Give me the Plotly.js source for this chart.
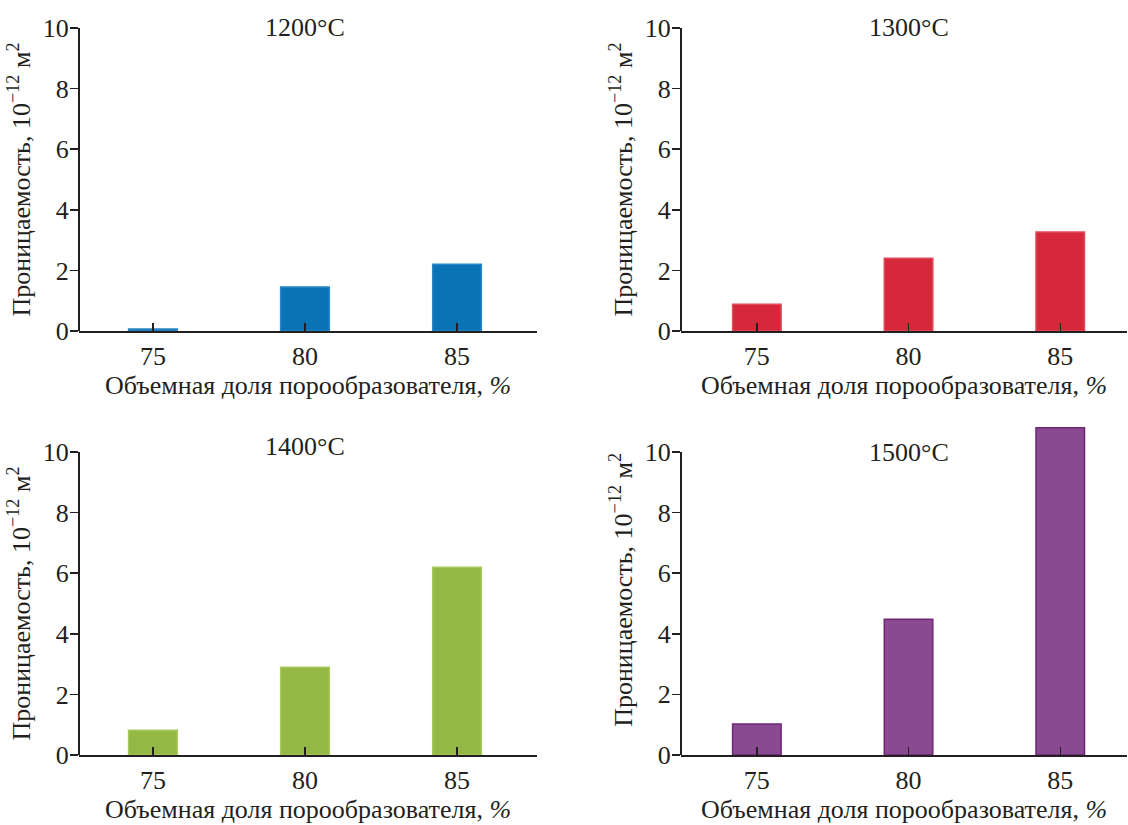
<!DOCTYPE html>
<html>
<head>
<meta charset="utf-8">
<script src="https://cdn.plot.ly/plotly-3.0.1.min.js"></script>
<style>
html,body{margin:0;padding:0;background:#fff;}
#chart{width:1128px;height:825px;}
</style>
</head>
<body>
<div id="chart"></div>
<script>
// ---- data ----
const fractions = [75, 80, 85];
const temps = ["1200°C", "1300°C", "1400°C", "1500°C"];
const perm1200 = [0.07, 1.45, 2.2];
const perm1300 = [0.88, 2.4, 3.27];
const perm1400 = [0.82, 2.9, 6.2];
const perm1500 = [1.02, 4.48, 10.8];
const yTicks = [0, 2, 4, 6, 8, 10];
const xTitle = "Объемная доля порообразователя, <i>%</i>";
const yTitle = "Проницаемость, 10<sup>−12</sup> м<sup>2</sup>";

// ---- styles ----
const fills = ["#0a73b6", "#d5293b", "#94b843", "#8a4a90"];
const lines = ["#2a86c4", "#e04a5a", "#a6c85c", "#6f277b"];
const series = [perm1200, perm1300, perm1400, perm1500];
const font = "Liberation Serif";
const fs = 26;
const ink = "#231f20";

const W = 1128, H = 825;
// pixel geometry of each panel [x0, x1, yTop, yBottom(0)], and y range top
const panels = [
  [79, 537, 28, 331],
  [681, 1127, 28, 331],
  [79, 537, 452, 755],
  [681, 1127, 424.7, 755]
];
const yMax = [10, 10, 10, 10.9];
const xRanges = [[72.57, 87.63], [72.5, 87.2], [72.57, 87.63], [72.5, 87.2]];

const traces = [];
const layout = {
  width: W, height: H,
  margin: {l: 0, r: 0, t: 0, b: 0},
  paper_bgcolor: "#fff", plot_bgcolor: "rgba(0,0,0,0)",
  showlegend: false,
  font: {family: font, size: fs, color: ink},
  annotations: [],
  shapes: []
};

const titlePos = [[305, 28], [909, 28], [305, 447], [909, 452]];

series.forEach((vals, i) => {
  const n = i + 1;
  const sfx = n === 1 ? "" : String(n);
  const xa = "x" + sfx, ya = "y" + sfx;
  traces.push({
    type: "bar", x: fractions, y: vals, width: 1.6,
    xaxis: xa, yaxis: ya,
    marker: {color: fills[i], line: {color: lines[i], width: 1.5}},
    hoverinfo: "x+y"
  });
  const p = panels[i];
  layout["xaxis" + sfx] = {
    domain: [p[0] / W, p[1] / W], anchor: ya,
    range: xRanges[i], tickvals: fractions, ticktext: fractions.map(String),
    ticks: "inside", ticklen: 8, tickwidth: 1.5, tickcolor: ink,
    showline: true, linecolor: ink, linewidth: 2,
    showgrid: false, zeroline: false,
    tickfont: {family: font, size: fs, color: ink},
    ticklabelstandoff: 1,
    title: {text: xTitle, font: {family: font, size: fs, color: ink}, standoff: 1}
  };
  layout["yaxis" + sfx] = {
    domain: [(H - p[3]) / H, (H - p[2]) / H], anchor: xa,
    range: [0, yMax[i]], tickvals: yTicks,
    ticks: "outside", ticklen: 8, tickwidth: 1.5, tickcolor: ink,
    showline: false,
    showgrid: false, zeroline: false,
    tickfont: {family: font, size: fs, color: ink},
    ticklabelstandoff: -4,
    title: {text: yTitle, font: {family: font, size: fs, color: ink}, standoff: 4}
  };
  // y axis line from 0 to 10
  layout.shapes.push({
    type: "line", xref: xa + " domain", yref: ya,
    x0: 0, x1: 0, y0: 0, y1: 10,
    line: {color: ink, width: 2}
  });
  layout.annotations.push({
    text: temps[i], xref: "paper", yref: "paper",
    x: titlePos[i][0] / W, y: (H - titlePos[i][1]) / H,
    xanchor: "center", yanchor: "middle", showarrow: false,
    font: {family: font, size: fs, color: ink}
  });
});

Plotly.newPlot("chart", traces, layout, {staticPlot: true});
</script>
</body>
</html>
